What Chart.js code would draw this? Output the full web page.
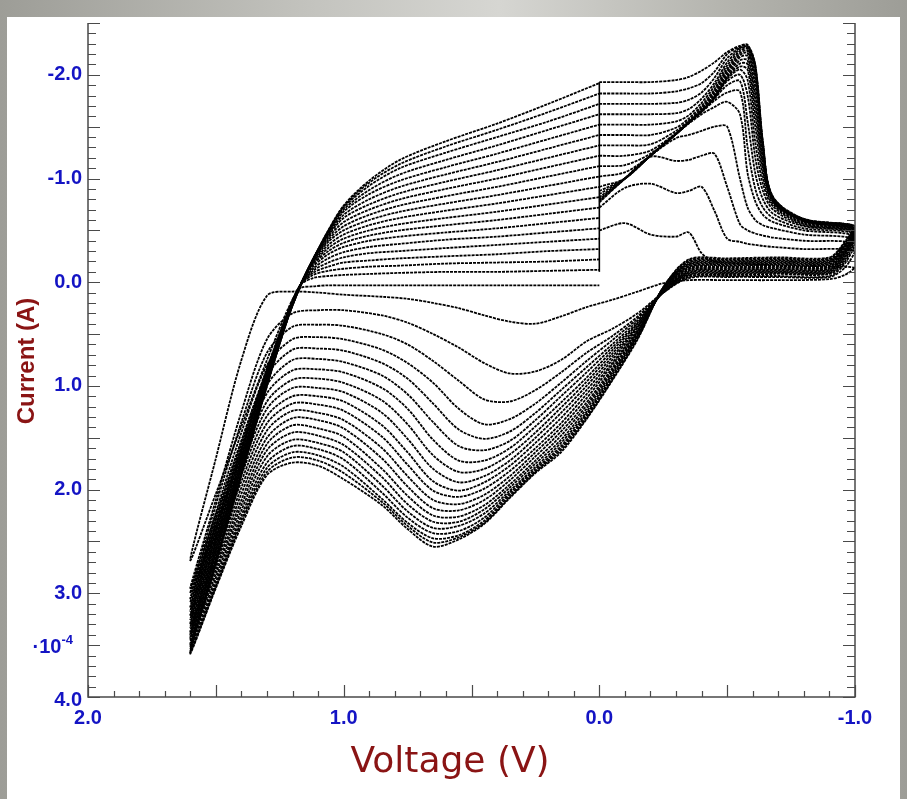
<!DOCTYPE html>
<html>
<head>
<meta charset="utf-8">
<script src="https://cdn.jsdelivr.net/npm/chart.js@4.4.1/dist/chart.umd.min.js"></script>
<style>
  html, body { margin: 0; padding: 0; }
  body { width: 907px; height: 799px; position: relative; overflow: hidden;
         background: linear-gradient(90deg, #9d9d97 0%, #c4c4bf 35%, #d6d6d2 55%, #b4b4ae 80%, #9d9d97 100%); }
  #panel { position: absolute; left: 7px; top: 17px; width: 893px; height: 782px; background: #ffffff; }
  #c { position: absolute; left: 0; top: 0; }
</style>
</head>
<body>
<div id="panel"></div>
<canvas id="c" width="907" height="799"></canvas>
<script>
// ---------------- DATA ----------------
// Cathodic sweep, 0 V -> -1.0 V (upper right)
const vCath = [0.0, -0.1, -0.2, -0.3, -0.35, -0.4, -0.45, -0.5, -0.55, -0.58, -0.61, -0.64, -0.68, -0.8, -1.0];
const iCath = [
  [-0.50,-0.57,-0.46,-0.44,-0.48,-0.28,-0.20,-0.19,-0.18,-0.18,-0.17,-0.17,-0.16,-0.15,-0.14],
  [-0.72,-0.91,-0.95,-0.86,-0.88,-0.92,-0.69,-0.42,-0.39,-0.37,-0.36,-0.35,-0.34,-0.32,-0.30],
  [-0.77,-1.00,-1.21,-1.17,-1.18,-1.22,-1.24,-0.92,-0.56,-0.50,-0.47,-0.45,-0.43,-0.40,-0.37],
  [-0.78,-1.00,-1.22,-1.39,-1.42,-1.46,-1.50,-1.50,-1.00,-0.72,-0.60,-0.55,-0.52,-0.46,-0.41],
  [-0.79,-1.00,-1.22,-1.43,-1.53,-1.62,-1.69,-1.74,-1.62,-1.05,-0.78,-0.65,-0.58,-0.50,-0.44],
  [-0.80,-1.00,-1.22,-1.43,-1.54,-1.64,-1.75,-1.83,-1.84,-1.30,-0.90,-0.72,-0.62,-0.52,-0.46],
  [-0.82,-1.00,-1.22,-1.43,-1.54,-1.65,-1.77,-1.90,-1.94,-1.55,-1.05,-0.80,-0.66,-0.54,-0.47],
  [-0.85,-1.00,-1.22,-1.43,-1.54,-1.65,-1.78,-1.94,-2.00,-1.80,-1.20,-0.88,-0.70,-0.55,-0.48],
  [-0.88,-1.00,-1.22,-1.43,-1.54,-1.65,-1.78,-1.96,-2.05,-1.95,-1.35,-0.95,-0.73,-0.56,-0.49],
  [-0.92,-1.00,-1.22,-1.43,-1.54,-1.65,-1.78,-1.97,-2.08,-2.05,-1.50,-1.02,-0.75,-0.57,-0.49],
  [-1.02,-1.06,-1.22,-1.43,-1.54,-1.65,-1.79,-1.98,-2.11,-2.10,-1.62,-1.08,-0.77,-0.58,-0.50],
  [-1.12,-1.13,-1.24,-1.43,-1.54,-1.66,-1.80,-2.00,-2.14,-2.14,-1.72,-1.13,-0.79,-0.59,-0.50],
  [-1.22,-1.22,-1.27,-1.44,-1.55,-1.67,-1.82,-2.02,-2.17,-2.18,-1.80,-1.18,-0.80,-0.59,-0.51],
  [-1.32,-1.32,-1.33,-1.46,-1.56,-1.68,-1.84,-2.04,-2.19,-2.21,-1.88,-1.22,-0.81,-0.60,-0.51],
  [-1.42,-1.42,-1.42,-1.49,-1.58,-1.70,-1.86,-2.06,-2.21,-2.23,-1.95,-1.26,-0.82,-0.60,-0.52],
  [-1.52,-1.52,-1.52,-1.55,-1.61,-1.73,-1.89,-2.09,-2.23,-2.25,-2.00,-1.29,-0.82,-0.61,-0.52],
  [-1.62,-1.62,-1.62,-1.63,-1.67,-1.77,-1.92,-2.12,-2.25,-2.26,-2.04,-1.31,-0.80,-0.61,-0.53],
  [-1.72,-1.72,-1.72,-1.73,-1.76,-1.83,-1.97,-2.16,-2.26,-2.27,-2.07,-1.33,-0.79,-0.61,-0.53],
  [-1.82,-1.82,-1.82,-1.84,-1.87,-1.92,-2.03,-2.20,-2.27,-2.28,-2.09,-1.34,-0.78,-0.60,-0.54],
  [-1.93,-1.93,-1.93,-1.95,-1.98,-2.04,-2.12,-2.22,-2.28,-2.29,-2.10,-1.35,-0.78,-0.60,-0.54]
];
// Anodic sweep, -1.0 V -> 1.6 V (lower branch)
const vAnod = [-1.0,-0.96,-0.9,-0.7,-0.5,-0.35,-0.25,-0.15,-0.05,0.05,0.15,0.25,0.35,0.45,0.55,0.65,0.75,0.85,1.0,1.1,1.2,1.3,1.4,1.5,1.6];
const iAnod = [
  [-0.14,-0.07,-0.03,-0.02,-0.02,-0.02,0.01,0.09,0.17,0.24,0.33,0.40,0.38,0.32,0.25,0.20,0.16,0.14,0.12,0.10,0.09,0.13,0.75,1.70,2.68],
  [-0.30,-0.14,-0.05,-0.05,-0.05,-0.04,0.10,0.30,0.45,0.57,0.75,0.86,0.88,0.78,0.63,0.50,0.39,0.32,0.27,0.27,0.30,0.55,1.25,2.10,2.95],
  [-0.37,-0.18,-0.06,-0.06,-0.06,-0.05,0.10,0.33,0.52,0.68,0.87,1.04,1.15,1.13,0.95,0.76,0.60,0.50,0.42,0.41,0.43,0.68,1.35,2.15,3.00],
  [-0.41,-0.20,-0.08,-0.08,-0.07,-0.06,0.10,0.35,0.56,0.76,0.97,1.17,1.32,1.37,1.22,0.97,0.78,0.65,0.55,0.53,0.55,0.80,1.45,2.22,3.05],
  [-0.44,-0.22,-0.09,-0.09,-0.08,-0.07,0.10,0.37,0.60,0.82,1.04,1.26,1.44,1.51,1.42,1.17,0.93,0.78,0.66,0.64,0.65,0.90,1.53,2.28,3.09],
  [-0.46,-0.24,-0.10,-0.10,-0.09,-0.08,0.09,0.39,0.63,0.87,1.10,1.33,1.53,1.62,1.58,1.35,1.08,0.90,0.77,0.74,0.75,0.99,1.60,2.34,3.13],
  [-0.47,-0.25,-0.11,-0.11,-0.10,-0.09,0.09,0.40,0.66,0.92,1.16,1.39,1.60,1.72,1.72,1.52,1.22,1.02,0.87,0.84,0.85,1.07,1.67,2.40,3.17],
  [-0.48,-0.27,-0.12,-0.12,-0.11,-0.10,0.09,0.42,0.69,0.96,1.21,1.45,1.66,1.80,1.83,1.67,1.37,1.14,0.97,0.93,0.94,1.15,1.74,2.46,3.21],
  [-0.49,-0.28,-0.13,-0.13,-0.12,-0.11,0.09,0.43,0.72,1.00,1.26,1.50,1.72,1.87,1.93,1.80,1.51,1.26,1.06,1.02,1.02,1.22,1.80,2.52,3.25],
  [-0.49,-0.29,-0.14,-0.14,-0.13,-0.12,0.08,0.44,0.75,1.04,1.31,1.55,1.77,1.93,2.01,1.92,1.64,1.38,1.15,1.10,1.10,1.29,1.86,2.58,3.29],
  [-0.50,-0.30,-0.15,-0.15,-0.14,-0.13,0.08,0.46,0.78,1.08,1.36,1.60,1.82,1.99,2.07,2.01,1.76,1.49,1.24,1.18,1.17,1.36,1.92,2.63,3.33],
  [-0.50,-0.31,-0.16,-0.16,-0.15,-0.14,0.07,0.47,0.80,1.12,1.40,1.64,1.87,2.05,2.14,2.10,1.87,1.60,1.33,1.26,1.24,1.43,1.98,2.68,3.37],
  [-0.51,-0.32,-0.17,-0.17,-0.16,-0.15,0.07,0.48,0.83,1.16,1.44,1.68,1.91,2.10,2.20,2.18,1.97,1.70,1.41,1.33,1.31,1.50,2.04,2.73,3.40],
  [-0.51,-0.33,-0.18,-0.18,-0.17,-0.16,0.07,0.49,0.85,1.19,1.48,1.72,1.95,2.15,2.26,2.25,2.06,1.80,1.49,1.41,1.38,1.56,2.10,2.77,3.43],
  [-0.52,-0.34,-0.19,-0.19,-0.18,-0.17,0.06,0.50,0.87,1.22,1.52,1.75,1.98,2.19,2.31,2.31,2.14,1.88,1.57,1.48,1.45,1.62,2.15,2.81,3.46],
  [-0.52,-0.35,-0.20,-0.20,-0.19,-0.18,0.06,0.51,0.89,1.25,1.55,1.78,2.01,2.23,2.35,2.37,2.21,1.96,1.64,1.55,1.52,1.68,2.20,2.85,3.49],
  [-0.53,-0.36,-0.21,-0.21,-0.20,-0.19,0.06,0.52,0.91,1.27,1.58,1.80,2.03,2.27,2.40,2.42,2.27,2.03,1.71,1.61,1.58,1.74,2.25,2.89,3.52],
  [-0.53,-0.37,-0.22,-0.22,-0.21,-0.20,0.05,0.53,0.92,1.29,1.60,1.82,2.05,2.30,2.44,2.47,2.32,2.09,1.78,1.67,1.64,1.79,2.29,2.92,3.55],
  [-0.54,-0.38,-0.23,-0.23,-0.22,-0.21,0.05,0.54,0.94,1.31,1.62,1.83,2.07,2.32,2.46,2.51,2.35,2.12,1.84,1.72,1.69,1.83,2.32,2.94,3.57],
  [-0.54,-0.39,-0.24,-0.24,-0.23,-0.22,0.05,0.55,0.95,1.32,1.64,1.84,2.08,2.33,2.48,2.55,2.38,2.15,1.90,1.77,1.74,1.86,2.35,2.95,3.58]
];
// Reverse sweep, 1.6 V -> 0 V (upper left)
const vRev = [1.6, 1.5, 1.4, 1.3, 1.22, 1.17, 1.12, 1.06, 1.0, 0.9, 0.78, 0.6, 0.4, 0.2, 0.0];
const iRev = [
  [2.68,2.04,1.39,0.75,0.27,0.06,0.04,0.03,0.03,0.03,0.03,0.03,0.03,0.03,0.03],
  [2.95,2.24,1.53,0.83,0.30,0.03,-0.04,-0.06,-0.07,-0.08,-0.09,-0.10,-0.10,-0.11,-0.12],
  [3.00,2.28,1.56,0.84,0.30,0.03,-0.07,-0.11,-0.13,-0.15,-0.16,-0.18,-0.19,-0.20,-0.22],
  [3.05,2.32,1.59,0.85,0.31,0.03,-0.09,-0.15,-0.19,-0.21,-0.23,-0.25,-0.27,-0.30,-0.32],
  [3.09,2.35,1.61,0.87,0.31,0.03,-0.11,-0.19,-0.24,-0.28,-0.30,-0.33,-0.36,-0.39,-0.42],
  [3.13,2.38,1.63,0.88,0.31,0.03,-0.13,-0.23,-0.29,-0.34,-0.37,-0.41,-0.44,-0.48,-0.52],
  [3.17,2.41,1.65,0.89,0.32,0.03,-0.15,-0.27,-0.34,-0.40,-0.44,-0.48,-0.52,-0.57,-0.62],
  [3.21,2.44,1.67,0.90,0.32,0.03,-0.17,-0.30,-0.38,-0.45,-0.50,-0.55,-0.60,-0.66,-0.72],
  [3.25,2.47,1.69,0.91,0.33,0.03,-0.18,-0.33,-0.42,-0.50,-0.56,-0.62,-0.68,-0.75,-0.82],
  [3.29,2.50,1.71,0.92,0.33,0.03,-0.19,-0.36,-0.46,-0.55,-0.62,-0.69,-0.76,-0.84,-0.92],
  [3.33,2.53,1.73,0.93,0.33,0.03,-0.20,-0.39,-0.50,-0.60,-0.68,-0.76,-0.84,-0.93,-1.02],
  [3.37,2.56,1.75,0.94,0.34,0.03,-0.21,-0.41,-0.54,-0.65,-0.74,-0.83,-0.92,-1.02,-1.12],
  [3.40,2.58,1.77,0.95,0.34,0.03,-0.21,-0.43,-0.58,-0.70,-0.80,-0.90,-1.00,-1.11,-1.22],
  [3.43,2.61,1.78,0.96,0.34,0.03,-0.22,-0.45,-0.62,-0.75,-0.86,-0.97,-1.08,-1.20,-1.32],
  [3.46,2.63,1.80,0.97,0.35,0.04,-0.22,-0.46,-0.65,-0.80,-0.92,-1.04,-1.16,-1.29,-1.42],
  [3.49,2.65,1.81,0.98,0.35,0.04,-0.22,-0.47,-0.68,-0.85,-0.98,-1.11,-1.24,-1.38,-1.52],
  [3.52,2.68,1.83,0.99,0.35,0.04,-0.22,-0.48,-0.70,-0.89,-1.04,-1.18,-1.32,-1.47,-1.62],
  [3.55,2.70,1.85,0.99,0.36,0.04,-0.22,-0.49,-0.72,-0.93,-1.10,-1.25,-1.40,-1.55,-1.72],
  [3.57,2.71,1.86,1.00,0.36,0.04,-0.22,-0.50,-0.73,-0.96,-1.14,-1.31,-1.47,-1.64,-1.82],
  [3.58,2.72,1.86,1.00,0.36,0.04,-0.22,-0.50,-0.74,-0.98,-1.18,-1.36,-1.53,-1.72,-1.92]
];
// Vertical segment at 0 V where successive cycles join
const vJoin = [0.0, 0.0];
const iJoin = [-0.10, -1.93];

// Tick labels
const xTickValues = [2, 1, 0, -1];
const xTickLabels = ['2.0', '1.0', '0.0', '-1.0'];
const yTickValues = [-2, -1, 0, 1, 2, 3, 4];
const yTickLabels = ['-2.0', '-1.0', '0.0', '1.0', '2.0', '3.0', '4.0'];
const yExpValue = 3.5;
const yExpBase = '\u00B710';
const yExpSup = '-4';
const xTitle = 'Voltage (V)';
const yTitle = 'Current (A)';

// ---------------- BUILD DATASETS ----------------
const pts = (vs, is) => vs.map((v, j) => ({ x: v, y: is[j] }));
const datasets = [];
for (let k = 0; k < iCath.length; k++) {
  const data = pts(vCath, iCath[k])
    .concat(pts(vAnod, iAnod[k]).slice(1))
    .concat(pts(vRev, iRev[k]).slice(1));
  datasets.push({ data, borderColor: '#000000', borderWidth: 1.8, borderDash: [3, 1],
                  pointRadius: 0, showLine: true, tension: 0.3, fill: false });
}
datasets.push({ data: pts(vJoin, iJoin), borderColor: '#000000', borderWidth: 1.6,
                pointRadius: 0, showLine: true, tension: 0, fill: false });

// ---------------- AXES / LABEL PLUGIN ----------------
const blue = '#1414c4';
const red = '#8a1414';
const frame = {
  id: 'frame',
  afterDraw(chart) {
    const { ctx, chartArea: a, scales: { x, y } } = chart;
    ctx.save();
    ctx.strokeStyle = '#4a4a4a';
    ctx.lineWidth = 1.5;
    ctx.setLineDash([]);
    ctx.beginPath();
    ctx.moveTo(a.left, a.top); ctx.lineTo(a.left, a.bottom);
    ctx.lineTo(a.right, a.bottom); ctx.lineTo(a.right, a.top);
    ctx.stroke();
    ctx.lineWidth = 1.2;
    ctx.beginPath();
    for (let i = -25; i <= 40; i++) {
      const py = Math.round(y.getPixelForValue(i / 10)) + 0.5;
      const len = (i % 5 === 0) ? 12 : 8;
      ctx.moveTo(a.left, py); ctx.lineTo(a.left + len, py);
      ctx.moveTo(a.right, py); ctx.lineTo(a.right - len, py);
    }
    for (let i = -10; i <= 20; i++) {
      const px = Math.round(x.getPixelForValue(i / 10)) + 0.5;
      const len = (i % 5 === 0) ? 12 : 6;
      ctx.moveTo(px, a.bottom); ctx.lineTo(px, a.bottom - len);
    }
    ctx.stroke();

    ctx.fillStyle = blue;
    ctx.font = 'bold 20px "Liberation Sans", Arial, sans-serif';
    ctx.textAlign = 'right';
    ctx.textBaseline = 'middle';
    yTickValues.forEach((v, j) => {
      let py = y.getPixelForValue(v);
      if (v === 4) py += 3;
      ctx.fillText(yTickLabels[j], a.left - 6, py);
    });
    // exponent label
    const pe = y.getPixelForValue(yExpValue);
    ctx.font = 'bold 13px "Liberation Sans", Arial, sans-serif';
    ctx.textBaseline = 'alphabetic';
    ctx.fillText(yExpSup, 73, pe - 1);
    const supW = ctx.measureText(yExpSup).width;
    ctx.font = 'bold 20px "Liberation Sans", Arial, sans-serif';
    ctx.fillText(yExpBase, 73 - supW, pe + 8);

    ctx.textAlign = 'center';
    ctx.textBaseline = 'middle';
    xTickValues.forEach((v, j) => {
      ctx.fillText(xTickLabels[j], x.getPixelForValue(v), a.bottom + 21);
    });

    ctx.fillStyle = red;
    ctx.font = '36px "DejaVu Sans", Verdana, sans-serif';
    ctx.textAlign = 'center';
    ctx.textBaseline = 'alphabetic';
    ctx.fillText(xTitle, 450, 772);

    ctx.translate(27, 361);
    ctx.rotate(-Math.PI / 2);
    ctx.font = 'bold 24px "Liberation Sans", Arial, sans-serif';
    ctx.textBaseline = 'middle';
    ctx.fillText(yTitle, 0, 0);
    ctx.restore();
  }
};

new Chart(document.getElementById('c'), {
  type: 'scatter',
  data: { datasets },
  options: {
    responsive: false,
    devicePixelRatio: 1,
    animation: false,
    events: [],
    layout: { padding: { left: 88, right: 52, top: 23, bottom: 102 } },
    plugins: { legend: { display: false }, tooltip: { enabled: false } },
    scales: {
      x: { type: 'linear', reverse: true, min: -1, max: 2, display: false },
      y: { type: 'linear', reverse: true, min: -2.5, max: 4.0, display: false }
    }
  },
  plugins: [frame]
});
</script>
</body>
</html>
